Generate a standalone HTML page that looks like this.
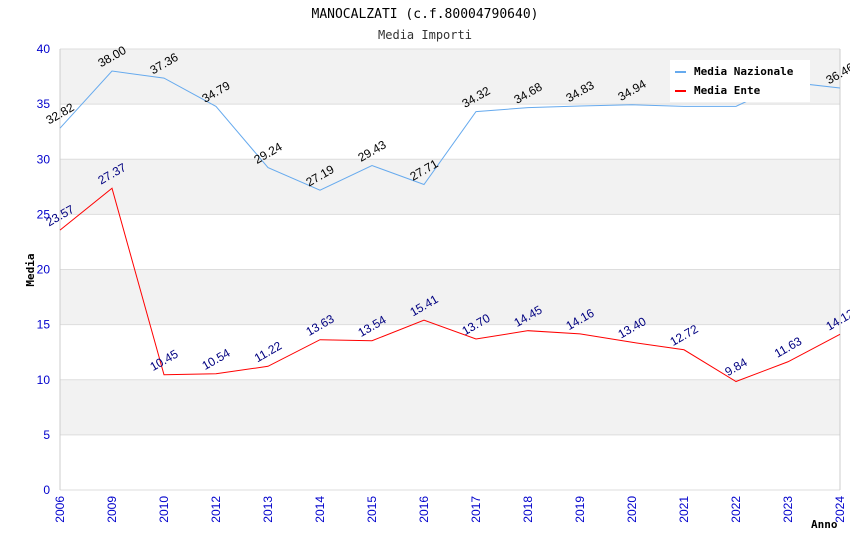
<!DOCTYPE html>
<html><head><meta charset="utf-8"><style>
body{margin:0;background:#fff;}
svg{display:block;font-family:"DejaVu Sans Mono","Liberation Mono",monospace;}
</style></head><body>
<svg id="c" width="850" height="550"></svg>
<script>
const categories=["2006","2009","2010","2012","2013","2014","2015","2016","2017","2018","2019","2020","2021","2022","2023","2024"];
const nazionale=[32.82,38.00,37.36,34.79,29.24,27.19,29.43,27.71,34.32,34.68,34.83,34.94,34.8,34.8,37.0,36.46];
const nazLabels=["32.82","38.00","37.36","34.79","29.24","27.19","29.43","27.71","34.32","34.68","34.83","34.94","","","","36.46"];
const ente=[23.57,27.37,10.45,10.54,11.22,13.63,13.54,15.41,13.70,14.45,14.16,13.40,12.72,9.84,11.63,14.12];
const yTicks=[0,5,10,15,20,25,30,35,40];
const NS="http://www.w3.org/2000/svg";
const svg=document.getElementById('c');
const L=60,R=840,T=49,B=490;
const x=i=>L+i*(R-L)/(categories.length-1);
const y=v=>B-(v/40)*(B-T);
function mk(t,a,p){const e=document.createElementNS(NS,t);for(const k in a)e.setAttribute(k,a[k]);(p||svg).appendChild(e);return e;}
for(let i=0;i<yTicks.length-1;i++){
  const r=mk('rect',{x:L,y:y(yTicks[i+1]),width:R-L,height:y(yTicks[i])-y(yTicks[i+1]),fill:i%2==1?'#f2f2f2':'#fff'});
  
  
}
yTicks.forEach(v=>{
  const l=mk('line',{x1:L,x2:R,y1:y(v),y2:y(v),stroke:'#ddd'});
  
  
  const t=mk('text',{x:L-10,y:y(v)+4,'text-anchor':'end','font-size':12,fill:'#0000cc','font-family':'Liberation Sans, sans-serif'});
  t.textContent=v;
  
  
});
mk('line',{x1:L,x2:L,y1:T,y2:B,stroke:'#ccc'});
mk('line',{x1:R,x2:R,y1:T,y2:B,stroke:'#ccc'});
categories.forEach((c,i)=>{
  const t=mk('text',{transform:`translate(${x(i)+4},${B+6}) rotate(-90)`,'text-anchor':'end','font-size':12,fill:'#0000cc','font-family':'Liberation Sans, sans-serif'});
  t.textContent=c;
  
  
});
function series(vals,labels,color,lcolor,name){
  const p=mk('polyline',{points:vals.map((v,i)=>x(i)+','+y(v)).join(' '),fill:'none',stroke:color,'stroke-width':1});
  
  
  vals.forEach((v,i)=>{
    const s=labels?labels[i]:v.toFixed(2);
    if(!s)return;
    const t=mk('text',{transform:`translate(${x(i)+2},${y(v)-11}) rotate(-30)`,'text-anchor':'middle','font-size':12,fill:lcolor,'font-family':'Liberation Sans, sans-serif'});
    t.textContent=s;
    
    
  });
}
series(nazionale,nazLabels,'#66aaee','#000','nazionale');
series(ente,null,'#ff0000','#000080','ente');
const lg=mk('g',{});


mk('rect',{x:670,y:60,width:140,height:42,fill:'#fff'},lg);
mk('line',{x1:675,x2:686,y1:72,y2:72,stroke:'#66aaee','stroke-width':2},lg);
mk('line',{x1:675,x2:686,y1:91,y2:91,stroke:'#ff0000','stroke-width':2},lg);
const t1=mk('text',{x:694,y:75,'font-size':11,'font-weight':'bold'},lg);t1.textContent='Media Nazionale';


const t2=mk('text',{x:694,y:94,'font-size':11,'font-weight':'bold'},lg);t2.textContent='Media Ente';


const ti=mk('text',{x:425,y:18,'text-anchor':'middle','font-size':13});ti.textContent='MANOCALZATI (c.f.80004790640)';


const st=mk('text',{x:425,y:39,'text-anchor':'middle','font-size':12,fill:'#333'});st.textContent='Media Importi';


const yt=mk('text',{transform:'translate(34,270) rotate(-90)','text-anchor':'middle','font-size':11,'font-weight':'bold'});yt.textContent='Media';


const xt=mk('text',{x:811,y:528,'font-size':11,'font-weight':'bold'});xt.textContent='Anno';


</script>
</body></html>
